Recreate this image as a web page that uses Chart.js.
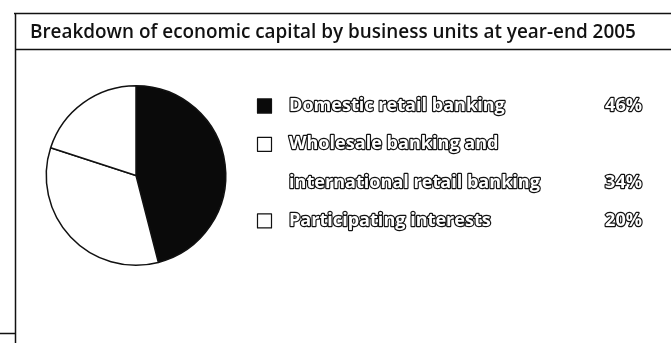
<!DOCTYPE html>
<html>
<head>
<meta charset="utf-8">
<style>
  html, body { margin: 0; padding: 0; background: #fff; }
  #wrap { width: 671px; height: 343px; }
</style>
<script src="https://cdn.jsdelivr.net/npm/chart.js@4/dist/chart.umd.min.js"></script>
</head>
<body>
<div id="wrap"><canvas id="chart" width="671" height="343"></canvas></div>
<script>
// Economic capital split, year-end 2005
const heading = 'Breakdown of economic capital by business units at year-end 2005';
const units = [
  ['Domestic retail banking'],
  ['Wholesale banking and', 'international retail banking'],
  ['Participating interests'],
];
const shares = [46, 34, 20];
const fills = ['#0a0a0a', '#ffffff', '#ffffff'];

const ink = '#111';

// pick a font size so a string spans the given width
function fitFont(ctx, text, weight, family, width) {
  ctx.font = `${weight} 20px ${family}`;
  const size = 20 * width / ctx.measureText(text).width;
  return `${weight} ${size.toFixed(2)}px ${family}`;
}

// box lines and the heading
const framePlugin = {
  id: 'frame',
  beforeDraw(chart) {
    const ctx = chart.ctx;
    ctx.save();
    ctx.fillStyle = '#fff';
    ctx.fillRect(0, 0, chart.width, chart.height);
    ctx.strokeStyle = ink;
    ctx.lineWidth = 1.5;
    ctx.beginPath();
    ctx.moveTo(14, 13.5); ctx.lineTo(chart.width, 13.5);
    ctx.moveTo(15.5, 13); ctx.lineTo(15.5, chart.height);
    ctx.moveTo(15, 49.5); ctx.lineTo(chart.width, 49.5);
    ctx.moveTo(0, 333.5); ctx.lineTo(15, 333.5);
    ctx.stroke();

    ctx.fillStyle = ink;
    ctx.font = fitFont(ctx, heading, 600, '"Open Sans"', 606);
    ctx.textBaseline = 'alphabetic';
    ctx.fillText(heading, 30, 38);
    ctx.restore();
  },
};

// legend on the right, hollow lettering
const legendPlugin = {
  id: 'sideLegend',
  afterDraw(chart) {
    const ctx = chart.ctx;
    const ds = chart.data.datasets[0];
    ctx.save();
    ctx.font = fitFont(ctx, units[0][0], 700, '"Open Sans"', 216);
    ctx.textBaseline = 'middle';
    ctx.lineJoin = 'round';
    let row = 0;
    units.forEach((lines, i) => {
      const y = 106 + row * 38.3;
      ctx.fillStyle = ds.backgroundColor[i];
      ctx.strokeStyle = ink;
      ctx.lineWidth = 1.2;
      ctx.fillRect(257, y - 7.5, 15, 15);
      ctx.strokeRect(257.5, y - 7, 14, 14);
      lines.forEach((line, k) => {
        const ly = 106 + (row + k) * 38.3;
        ctx.lineWidth = 2.4;
        ctx.strokeStyle = ink;
        ctx.fillStyle = '#fff';
        ctx.textAlign = 'left';
        ctx.strokeText(line, 289, ly);
        ctx.fillText(line, 289, ly);
      });
      const py = 106 + (row + lines.length - 1) * 38.3;
      const pct = ds.data[i] + '%';
      ctx.textAlign = 'right';
      ctx.strokeText(pct, 642, py);
      ctx.fillText(pct, 642, py);
      row += lines.length;
    });
    ctx.restore();
  },
};

new Chart(document.getElementById('chart'), {
  type: 'pie',
  data: {
    labels: units.map(l => l.join(' ')),
    datasets: [{
      data: shares,
      backgroundColor: fills,
      borderColor: ink,
      borderWidth: 1.5,
    }],
  },
  options: {
    responsive: false,
    animation: false,
    layout: { padding: { left: 45, top: 85, right: 444, bottom: 77 } },
    plugins: {
      legend: { display: false },
      title: { display: false },
      tooltip: { enabled: false },
    },
  },
  plugins: [framePlugin, legendPlugin],
});
</script>
</body>
</html>
